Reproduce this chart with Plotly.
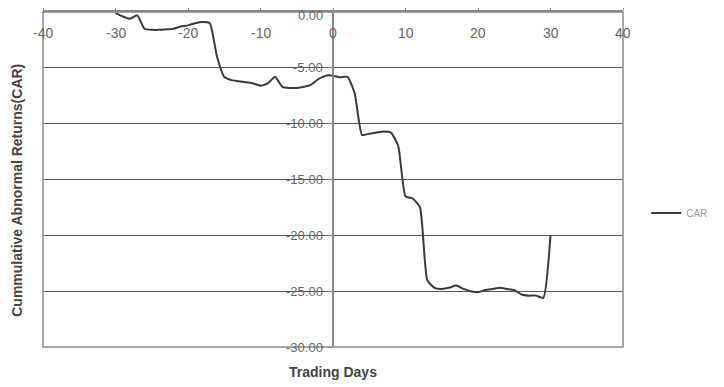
import plotly.graph_objects as go

days = list(range(-30, 31))
car = [
    -0.1, -0.4, -0.6, -0.3, -1.5, -1.6, -1.6, -1.55, -1.5, -1.3,
    -1.2, -1.0, -0.9, -1.0, -4.0, -5.8, -6.1, -6.2, -6.3, -6.4,
    -6.6, -6.4, -5.8, -6.7, -6.8, -6.8, -6.7, -6.5, -6.0, -5.7,
    -5.7, -5.85, -5.8, -7.3, -11.0, -10.9, -10.8, -10.7, -10.8, -12.0,
    -16.5, -16.7, -17.5, -24.0, -24.7, -24.8, -24.7, -24.5, -24.8, -25.0,
    -25.1, -24.9, -24.8, -24.7, -24.8, -24.9, -25.3, -25.4, -25.4, -25.6,
    -20.0,
]
x_ticks = [-40, -30, -20, -10, 0, 10, 20, 30, 40]
x_tick_labels = ["-40", "-30", "-20", "-10", "0", "10", "20", "30", "40"]
y_ticks = [0, -5, -10, -15, -20, -25, -30]
y_tick_labels = ["0.00", "-5.00", "-10.00", "-15.00", "-20.00", "-25.00", "-30.00"]
series_name = "CAR"
x_title = "Trading Days"
y_title = "Cummulative Abnormal Returns(CAR)"

FONT = "Liberation Sans, Arial, sans-serif"

fig = go.Figure()
fig.add_trace(go.Scatter(
    x=days, y=car, mode="lines", name=series_name,
    line=dict(color="#3a3a3a", width=2, shape="spline", smoothing=0.5),
    showlegend=True,
))

annotations = [
    dict(text="<b>" + x_title + "</b>", xref="paper", yref="paper", x=0.5, y=-0.075,
         xanchor="center", yanchor="middle", showarrow=False,
         font=dict(size=14, color="#444", family=FONT)),
    dict(text="<b>" + y_title + "</b>", xref="paper", yref="paper", x=-0.045, y=0.469,
         xanchor="center", yanchor="middle", textangle=-90, showarrow=False,
         font=dict(size=14, color="#444", family=FONT)),
]
# x tick labels sit below the top (y = 0) axis line, including the two end values
for v, t in zip(x_ticks, x_tick_labels):
    annotations.append(dict(text=t, x=v, y=0, xref="x", yref="y",
                            xanchor="center", yanchor="middle", yshift=-21,
                            showarrow=False,
                            font=dict(size=14, color="#666", family=FONT)))
# y tick labels to the left of the x = 0 axis line
for v, t in zip(y_ticks, y_tick_labels):
    annotations.append(dict(text=t, x=0, y=v, xref="x", yref="y",
                            xanchor="right", yanchor="middle", xshift=-8,
                            yshift=(-3 if v == 0 else 0),
                            showarrow=False,
                            font=dict(size=13, color="#666", family=FONT)))

# page body has an 8px default margin, so the figure is sized to fit the 724x387 window
fig.update_layout(
    width=716, height=379,
    margin=dict(l=35, r=101, t=4, b=40, autoexpand=False),
    paper_bgcolor="white", plot_bgcolor="white",
    font=dict(family=FONT, color="#444", size=10),
    legend=dict(x=1.04, y=0.40, xanchor="left", yanchor="middle",
                bgcolor="rgba(0,0,0,0)", font=dict(size=10, color="#999")),
    shapes=[dict(type="rect", xref="paper", yref="paper", x0=0, x1=1, y0=0, y1=1,
                 line=dict(color="#888", width=1.5), layer="above")],
    annotations=annotations,
)

fig.update_xaxes(
    range=[-40, 40], tickvals=x_ticks, showticklabels=False,
    side="top", anchor="y", automargin=False,
    showgrid=False, zeroline=False,
    showline=True, linecolor="#888", linewidth=1.5,
    ticks="outside", ticklen=3, tickcolor="#888",
)
fig.update_yaxes(
    range=[-30, 0], tickvals=y_ticks, showticklabels=False,
    anchor="free", position=0.5, side="left", automargin=False,
    showgrid=True, gridcolor="#555", gridwidth=1, zeroline=False,
    showline=True, linecolor="#888", linewidth=1.5,
    ticks="outside", ticklen=4, tickcolor="#888",
)

fig.write_html("out.html")
